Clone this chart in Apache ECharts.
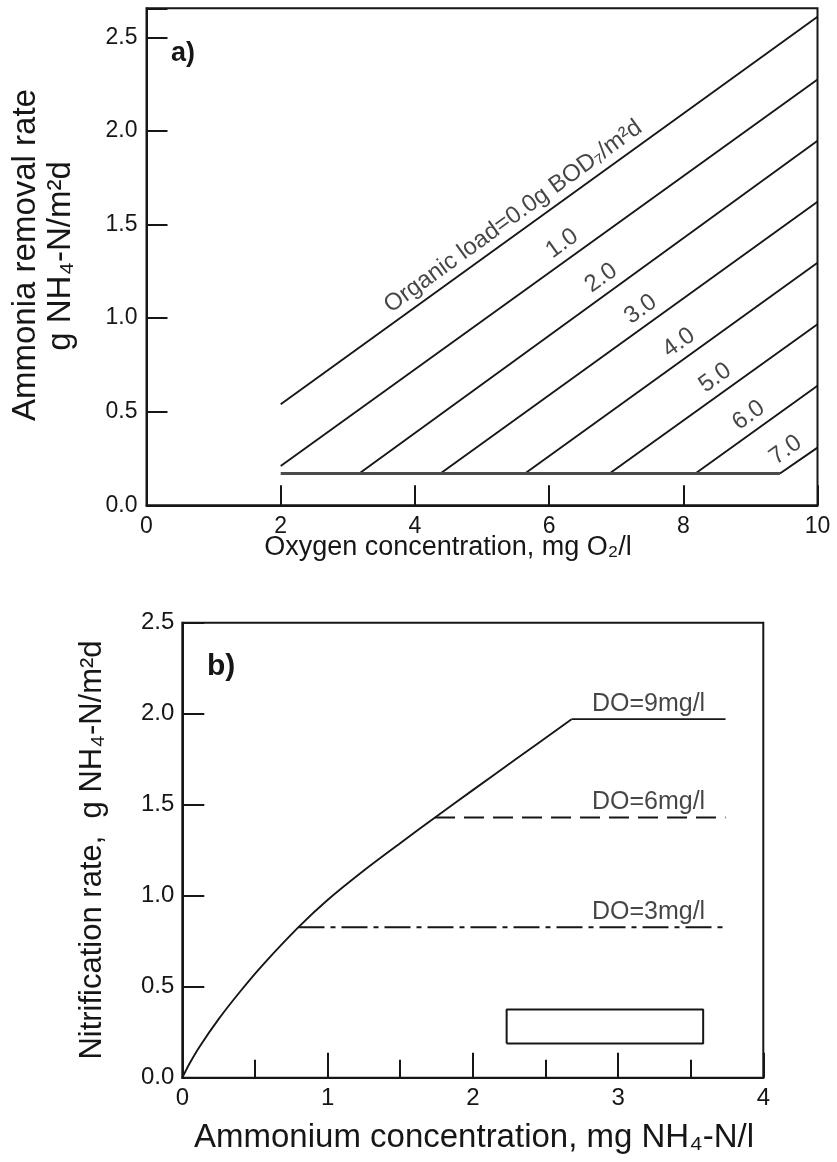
<!DOCTYPE html>
<html>
<head>
<meta charset="utf-8">
<script src="https://cdn.jsdelivr.net/npm/echarts@6/dist/echarts.min.js"></script>
<style>
  html, body { margin: 0; padding: 0; background: #ffffff; }
  #chart { width: 837px; height: 1162px; }
</style>
</head>
<body>
<div id="chart"></div>
<script>
// ---- Panel a: ammonia removal rate against oxygen concentration ----
const organicLoads   = ['0.0', '1.0', '2.0', '3.0', '4.0', '5.0', '6.0', '7.0'];
const loadStartO2    = [2.0, 2.0, 3.17, 4.38, 5.64, 6.90, 8.18, 9.44];
const loadStartRate  = [0.54, 0.21, 0.17, 0.17, 0.17, 0.17, 0.17, 0.17];
const loadEndO2      = [10, 10, 10, 10, 10, 10, 10, 10];
const loadEndRate    = [2.61, 2.275, 1.948, 1.622, 1.296, 0.967, 0.639, 0.308];
const floorO2        = [2.0, 9.44];
const floorRate      = [0.17, 0.17];

// ---- Panel b: nitrification rate against ammonium concentration ----
const ammoniumConc   = [0, 0.05, 0.12, 0.25, 0.40, 0.55, 0.80, 1.00, 1.25, 1.50, 1.74, 2.00, 2.30, 2.68];
const nitrifRate     = [0, 0.078, 0.172, 0.322, 0.475, 0.616, 0.827, 0.976, 1.138, 1.288, 1.43, 1.58, 1.752, 1.97];
const doLabels       = ['DO=9mg/l', 'DO=6mg/l', 'DO=3mg/l'];
const doStartNH4     = [2.68, 1.74, 0.80];
const doEndNH4       = [3.74, 3.74, 3.74];
const doPlateau      = [1.97, 1.43, 0.827];
const boxNH4         = [2.233, 3.586];
const boxRate        = [0.188, 0.375];

// ---- styling ----
const INK = '#161616';
const FONT = 'Liberation Sans, Arial, Helvetica, sans-serif';
const slopeDeg = 35.85;                         // drawn angle of the load lines
const loadLabelAt = [5.57, 6.30, 6.88, 7.47, 8.04, 8.58, 9.08, 9.63];
const doLabelAt = 3.21;

function rateAt(i, x) {
  const t = (x - loadStartO2[i]) / (loadEndO2[i] - loadStartO2[i]);
  return loadStartRate[i] + t * (loadEndRate[i] - loadStartRate[i]);
}
const oneDecimal = v => (Math.abs(v * 2 - Math.round(v * 2)) < 1e-6 ? v.toFixed(1) : '');

const axisLine = { show: true, lineStyle: { color: INK, width: 2 } };
const tickLabelA = { color: INK, fontFamily: FONT, fontSize: 23 };
const tickLabelB = { color: INK, fontFamily: FONT, fontSize: 24 };

const series = [];

// organic load lines
organicLoads.forEach((load, i) => {
  series.push({
    type: 'line', xAxisIndex: 0, yAxisIndex: 0, silent: true, symbol: 'none',
    lineStyle: { color: INK, width: 1.9 },
    data: [[loadStartO2[i], loadStartRate[i]], [loadEndO2[i], loadEndRate[i]]]
  });
});
// lower limit line
series.push({
  type: 'line', xAxisIndex: 0, yAxisIndex: 0, silent: true, symbol: 'none',
  lineStyle: { color: '#4a4a4a', width: 3 },
  data: floorO2.map((x, k) => [x, floorRate[k]])
});
// load labels set along each line
series.push({
  type: 'scatter', xAxisIndex: 0, yAxisIndex: 0, silent: true, symbolSize: 0,
  data: organicLoads.map((load, i) => ({
    value: [loadLabelAt[i], rateAt(i, loadLabelAt[i])],
    name: i === 0 ? 'Organic load=' + load + 'g BOD\u2087/m\u00b2d' : load
  })),
  label: {
    show: true, position: 'top', distance: 5, rotate: slopeDeg,
    formatter: p => p.name, color: INK, fontFamily: FONT, fontSize: 24
  }
});

// nitrification curve
series.push({
  type: 'line', xAxisIndex: 1, yAxisIndex: 1, silent: true, symbol: 'none',
  smooth: 0.3,
  lineStyle: { color: INK, width: 1.9 },
  data: ammoniumConc.map((x, k) => [x, nitrifRate[k]])
});
const doDash = ['solid', [20, 9], [26, 6, 5, 6]];
doLabels.forEach((name, i) => {
  series.push({
    type: 'line', xAxisIndex: 1, yAxisIndex: 1, silent: true, symbol: 'none',
    lineStyle: { color: INK, width: 1.9, type: doDash[i] },
    data: [[doStartNH4[i], doPlateau[i]], [doEndNH4[i], doPlateau[i]]]
  });
});
series.push({
  type: 'scatter', xAxisIndex: 1, yAxisIndex: 1, silent: true, symbolSize: 0,
  data: doLabels.map((name, i) => ({ value: [doLabelAt, doPlateau[i]], name })),
  label: {
    show: true, position: 'top', distance: 3,
    formatter: p => p.name, color: INK, fontFamily: FONT, fontSize: 25
  }
});
// empty frame inside panel b
series.push({
  type: 'line', xAxisIndex: 1, yAxisIndex: 1, silent: true, symbol: 'none',
  lineStyle: { color: INK, width: 2 },
  data: [[boxNH4[0], boxRate[0]], [boxNH4[1], boxRate[0]], [boxNH4[1], boxRate[1]],
         [boxNH4[0], boxRate[1]], [boxNH4[0], boxRate[0]]]
});

const chart = echarts.init(document.getElementById('chart'), null, { renderer: 'canvas' });
chart.setOption({
  animation: false,
  backgroundColor: '#ffffff',
  title: [
    { text: 'a)', left: 171, top: 40, padding: 0,
      textStyle: { fontFamily: FONT, fontSize: 27, fontWeight: 'bold', color: INK } },
    { text: 'b)', left: 207, top: 652, padding: 0,
      textStyle: { fontFamily: FONT, fontSize: 30, fontWeight: 'bold', color: INK } }
  ],
  grid: [
    { left: 146.5, top: 8.3, width: 671, height: 497, show: true,
      borderColor: INK, borderWidth: 2, containLabel: false },
    { left: 182.3, top: 622.7, width: 581, height: 455, show: true,
      borderColor: INK, borderWidth: 2, containLabel: false }
  ],
  xAxis: [
    { type: 'value', gridIndex: 0, min: 0, max: 10, interval: 2,
      axisLine, splitLine: { show: false },
      axisTick: { show: true, inside: true, length: 20, lineStyle: { color: INK, width: 2 } },
      axisLabel: Object.assign({ margin: 10 }, tickLabelA) },
    { type: 'value', gridIndex: 1, min: 0, max: 4, interval: 1,
      axisLine, splitLine: { show: false },
      axisTick: { show: true, inside: true, length: 25, lineStyle: { color: INK, width: 2 } },
      minorTick: { show: true, splitNumber: 2, length: 18, lineStyle: { color: INK, width: 2 } },
      axisLabel: Object.assign({ margin: 9 }, tickLabelB) }
  ],
  yAxis: [
    { type: 'value', gridIndex: 0, min: 0, max: 2.655, interval: 0.5,
      axisLine, splitLine: { show: false },
      axisTick: { show: true, inside: true, length: 21, lineStyle: { color: INK, width: 2 } },
      axisLabel: Object.assign({ margin: 9, formatter: oneDecimal }, tickLabelA) },
    { type: 'value', gridIndex: 1, min: 0, max: 2.5, interval: 0.5,
      axisLine, splitLine: { show: false },
      axisTick: { show: true, inside: true, length: 22, lineStyle: { color: INK, width: 2 } },
      axisLabel: Object.assign({ margin: 8, formatter: oneDecimal }, tickLabelB) }
  ],
  graphic: [
    { type: 'text', x: 26, y: 255, rotation: Math.PI / 2,
      style: { text: 'Ammonia removal rate', fill: INK, font: '33px ' + FONT,
               align: 'center', verticalAlign: 'middle' } },
    { type: 'text', x: 61, y: 256, rotation: Math.PI / 2,
      style: { text: 'g NH\u2084-N/m\u00b2d', fill: INK, font: '33px ' + FONT,
               align: 'center', verticalAlign: 'middle' } },
    { type: 'text', x: 448, y: 548,
      style: { text: 'Oxygen concentration, mg O\u2082/l', fill: INK, font: '27px ' + FONT,
               align: 'center', verticalAlign: 'middle' } },
    { type: 'text', x: 92, y: 850, rotation: Math.PI / 2,
      style: { text: 'Nitrification rate,  g NH\u2084-N/m\u00b2d', fill: INK, font: '31px ' + FONT,
               align: 'center', verticalAlign: 'middle' } },
    { type: 'text', x: 474, y: 1138,
      style: { text: 'Ammonium concentration, mg NH\u2084-N/l', fill: INK, font: '33px ' + FONT,
               align: 'center', verticalAlign: 'middle' } }
  ],
  series
});
</script>
</body>
</html>
